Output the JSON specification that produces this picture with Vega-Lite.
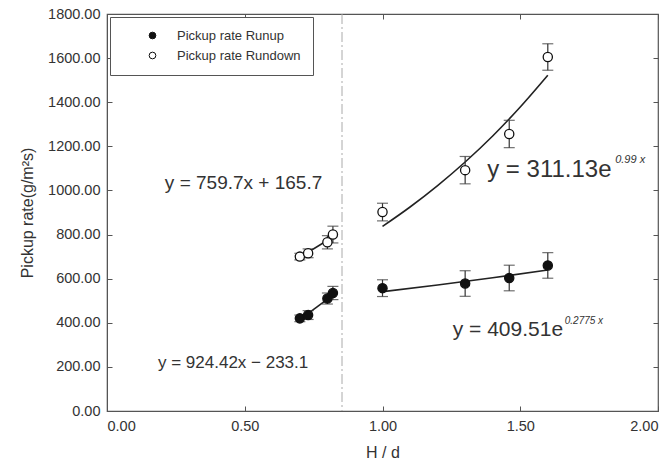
{
  "$schema": "https://vega.github.io/schema/vega-lite/v6.json",
  "width": 551,
  "height": 397,
  "autosize": {"type": "none"},
  "padding": {"left": 107, "top": 14, "right": 13, "bottom": 58},
  "background": "white",
  "config": {
    "font": "Liberation Sans",
    "view": {"stroke": "#555", "strokeWidth": 1.2},
    "axis": {"grid": false, "labelFont": "Liberation Sans", "titleFont": "Liberation Sans", "labelColor": "#333", "titleColor": "#333", "labelFontSize": 14.5, "titleFontSize": 16, "titleFontWeight": "normal", "domainColor": "#555", "tickColor": "#555"}
  },
  "datasets": {
    "pts": [
      {"hd": 0.70, "rate": 420, "err": 15, "series": "Pickup rate Runup"},
      {"hd": 0.73, "rate": 435, "err": 20, "series": "Pickup rate Runup"},
      {"hd": 0.80, "rate": 510, "err": 25, "series": "Pickup rate Runup"},
      {"hd": 0.82, "rate": 535, "err": 30, "series": "Pickup rate Runup"},
      {"hd": 1.00, "rate": 557, "err": 38, "series": "Pickup rate Runup"},
      {"hd": 1.30, "rate": 578, "err": 58, "series": "Pickup rate Runup"},
      {"hd": 1.46, "rate": 603, "err": 58, "series": "Pickup rate Runup"},
      {"hd": 1.60, "rate": 660, "err": 58, "series": "Pickup rate Runup"},
      {"hd": 0.70, "rate": 700, "err": 15, "series": "Pickup rate Rundown"},
      {"hd": 0.73, "rate": 715, "err": 20, "series": "Pickup rate Rundown"},
      {"hd": 0.80, "rate": 765, "err": 30, "series": "Pickup rate Rundown"},
      {"hd": 0.82, "rate": 800, "err": 38, "series": "Pickup rate Rundown"},
      {"hd": 1.00, "rate": 902, "err": 40, "series": "Pickup rate Rundown"},
      {"hd": 1.30, "rate": 1092, "err": 62, "series": "Pickup rate Rundown"},
      {"hd": 1.46, "rate": 1256, "err": 62, "series": "Pickup rate Rundown"},
      {"hd": 1.60, "rate": 1605, "err": 60, "series": "Pickup rate Rundown"}
    ],
    "fits": [
      {"hd": 0.70, "rate": 414, "fit": "runup_lin"},
      {"hd": 0.82, "rate": 525, "fit": "runup_lin"},
      {"hd": 0.70, "rate": 697, "fit": "rundown_lin"},
      {"hd": 0.82, "rate": 789, "fit": "rundown_lin"},
      {"hd": 1.00, "rate": 541, "fit": "runup_exp"},
      {"hd": 1.20, "rate": 571, "fit": "runup_exp"},
      {"hd": 1.40, "rate": 604, "fit": "runup_exp"},
      {"hd": 1.60, "rate": 639, "fit": "runup_exp"},
      {"hd": 1.00, "rate": 837, "fit": "rundown_exp"},
      {"hd": 1.10, "rate": 925, "fit": "rundown_exp"},
      {"hd": 1.20, "rate": 1022, "fit": "rundown_exp"},
      {"hd": 1.30, "rate": 1129, "fit": "rundown_exp"},
      {"hd": 1.40, "rate": 1247, "fit": "rundown_exp"},
      {"hd": 1.50, "rate": 1378, "fit": "rundown_exp"},
      {"hd": 1.60, "rate": 1522, "fit": "rundown_exp"}
    ],
    "eqs": [
      {"hd": 0.21, "rate": 1034, "main": "y = 759.7x + 165.7", "size": 19},
      {"hd": 0.185, "rate": 218, "main": "y = 924.42x − 233.1", "size": 17},
      {"hd": 1.38, "rate": 1092, "main": "y = 311.13e", "size": 24},
      {"hd": 1.255, "rate": 367, "main": "y = 409.51e", "size": 21}
    ],
    "sups": [
      {"hd": 1.38, "rate": 1092, "sup": "0.99 x", "which": "a"},
      {"hd": 1.255, "rate": 367, "sup": "0.2775 x", "which": "b"}
    ]
  },
  "layer": [
    {
      "layer": [
        {
          "data": {"values": [{"hd": 0.853}]},
          "mark": {"type": "rule", "color": "#aaa", "strokeDash": [10, 3, 2, 3], "strokeWidth": 1},
          "encoding": {"x": {"field": "hd", "type": "quantitative"}}
        },
        {
          "data": {"name": "fits"},
          "mark": {"type": "line", "color": "#222", "strokeWidth": 1.6, "interpolate": "monotone"},
          "encoding": {
            "x": {"field": "hd", "type": "quantitative"},
            "y": {"field": "rate", "type": "quantitative"},
            "detail": {"field": "fit"}
          }
        },
        {
          "data": {"name": "pts"},
          "transform": [
            {"calculate": "datum.rate - datum.err", "as": "lo"},
            {"calculate": "datum.rate + datum.err", "as": "hi"}
          ],
          "layer": [
            {
              "mark": {"type": "rule", "color": "#333", "strokeWidth": 1.2},
              "encoding": {
                "x": {"field": "hd", "type": "quantitative"},
                "y": {"field": "lo", "type": "quantitative"},
                "y2": {"field": "hi"}
              }
            },
            {
              "mark": {"type": "tick", "orient": "horizontal", "color": "#333", "size": 11, "thickness": 1.2},
              "encoding": {
                "x": {"field": "hd", "type": "quantitative"},
                "y": {"field": "lo", "type": "quantitative"}
              }
            },
            {
              "mark": {"type": "tick", "orient": "horizontal", "color": "#333", "size": 11, "thickness": 1.2},
              "encoding": {
                "x": {"field": "hd", "type": "quantitative"},
                "y": {"field": "hi", "type": "quantitative"}
              }
            }
          ]
        },
        {
          "data": {"name": "pts"},
          "mark": {"type": "point", "shape": "circle", "stroke": "#111", "strokeWidth": 1.3, "size": 85, "opacity": 1, "filled": false},
          "encoding": {
            "x": {
              "field": "hd", "type": "quantitative",
              "scale": {"domain": [0, 2], "nice": false},
              "axis": {"title": "H / d", "values": [0, 0.5, 1, 1.5, 2], "format": ".2f", "tickSize": -5, "labelPadding": 13, "titlePadding": 12}
            },
            "y": {
              "field": "rate", "type": "quantitative",
              "scale": {"domain": [0, 1800], "nice": false},
              "axis": {"title": "Pickup rate(g/m²s)", "values": [0, 200, 400, 600, 800, 1000, 1200, 1400, 1600, 1800], "format": ".2f", "tickSize": -5, "labelPadding": 12, "titlePadding": 12}
            },
            "fill": {
              "field": "series", "type": "nominal",
              "scale": {"domain": ["Pickup rate Runup", "Pickup rate Rundown"], "range": ["#111", "white"]},
              "legend": {
                "title": null, "orient": "none", "legendX": 3, "legendY": 3,
                "strokeColor": "#555", "fillColor": "white", "padding": 12,
                "symbolStrokeColor": "#111", "symbolStrokeWidth": 1, "symbolSize": 45, "symbolType": "circle",
                "labelFontSize": 13, "labelColor": "#333", "labelOffset": 18, "rowPadding": 6,
                "symbolOffset": 24, "labelLimit": 300
              }
            }
          }
        },
        {
          "data": {"name": "eqs"},
          "mark": {"type": "text", "align": "left", "baseline": "middle", "color": "#333", "font": "Liberation Sans"},
          "encoding": {
            "x": {"field": "hd", "type": "quantitative"},
            "y": {"field": "rate", "type": "quantitative"},
            "text": {"field": "main"},
            "size": {"field": "size", "type": "quantitative", "scale": null}
          }
        },
        {
          "data": {"name": "sups"},
          "transform": [{"filter": "datum.which == 'a'"}],
          "mark": {"type": "text", "align": "left", "baseline": "middle", "color": "#333", "fontSize": 11, "fontStyle": "italic", "dx": 128, "dy": -10},
          "encoding": {
            "x": {"field": "hd", "type": "quantitative"},
            "y": {"field": "rate", "type": "quantitative"},
            "text": {"field": "sup"}
          }
        },
        {
          "data": {"name": "sups"},
          "transform": [{"filter": "datum.which == 'b'"}],
          "mark": {"type": "text", "align": "left", "baseline": "middle", "color": "#333", "fontSize": 10, "fontStyle": "italic", "dx": 112, "dy": -9},
          "encoding": {
            "x": {"field": "hd", "type": "quantitative"},
            "y": {"field": "rate", "type": "quantitative"},
            "text": {"field": "sup"}
          }
        }
      ]
    },
    {
      "data": {"values": [{"hd": 0, "rate": 0}]},
      "mark": {"type": "point", "opacity": 0},
      "encoding": {
        "x": {"field": "hd", "type": "quantitative", "axis": {"orient": "top", "values": [0, 0.5, 1, 1.5, 2], "labels": false, "title": null, "tickSize": -5, "domain": false}},
        "y": {"field": "rate", "type": "quantitative", "axis": {"orient": "right", "values": [0, 200, 400, 600, 800, 1000, 1200, 1400, 1600, 1800], "labels": false, "title": null, "tickSize": -5, "domain": false}}
      }
    }
  ],
  "resolve": {"scale": {"x": "shared", "y": "shared"}, "axis": {"x": "independent", "y": "independent"}}
}
